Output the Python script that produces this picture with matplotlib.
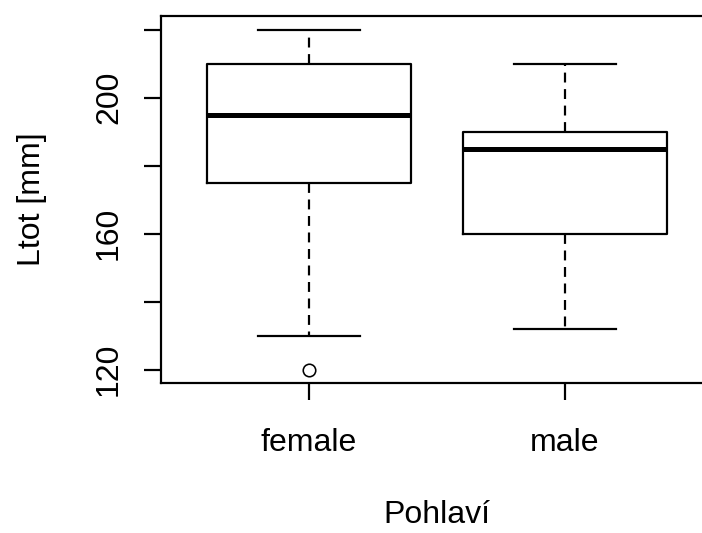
import matplotlib
matplotlib.use("Agg")
import matplotlib.pyplot as plt

groups = ["female", "male"]
whisk_lo = [130, 132]
q1 = [175, 160]
medians = [195, 185]
q3 = [210, 190]
whisk_hi = [220, 210]
outliers = [[120], []]
yticks = [120, 160, 200]
minor_ticks = [140, 180, 220]

plt.rcParams['font.family'] = ['Liberation Sans', 'DejaVu Sans']
px = 0.72  # points per pixel at dpi 100

fig = plt.figure(figsize=(7.02, 5.33), dpi=100)
ax = fig.add_axes([160.5 / 702, (533 - 383.3) / 533, 553 / 702, 367.3 / 533])

stats = []
for i, g in enumerate(groups):
    stats.append(dict(label=g, whislo=whisk_lo[i], q1=q1[i], med=medians[i],
                      q3=q3[i], whishi=whisk_hi[i], fliers=outliers[i]))

lw = 2.2 * px
ax.bxp(stats, positions=[1, 2], widths=0.8, showfliers=True,
       boxprops=dict(color='black', linewidth=lw),
       medianprops=dict(color='black', linewidth=5 * px, solid_capstyle='butt'),
       whiskerprops=dict(color='black', linewidth=lw, linestyle=(0, (4.5, 3))),
       capprops=dict(color='black', linewidth=lw),
       capwidths=0.4,
       flierprops=dict(marker='o', markerfacecolor='none', markeredgecolor='black',
                       markersize=9, markeredgewidth=1.6 * px))

ax.set_xlim(0.42, 2.58)
ax.set_ylim(116, 224)

fs = 23
all_ticks = sorted(yticks + minor_ticks)
ax.set_yticks(all_ticks)
ax.set_yticklabels([str(t) if t in yticks else "" for t in all_ticks],
                   rotation=90, va='center', fontsize=fs)
ax.set_xticks([1, 2])
ax.set_xticklabels(groups, fontsize=fs)

ax.tick_params(axis='both', length=17 * px, width=lw, color='black')
ax.tick_params(axis='y', pad=14)
ax.tick_params(axis='x', pad=20)

for s in ax.spines.values():
    s.set_linewidth(lw)

ax.set_xlabel("Pohlaví", fontsize=fs, labelpad=30)
ax.set_ylabel("Ltot [mm]", fontsize=fs, labelpad=34)

fig.savefig("out.png", dpi=100)
